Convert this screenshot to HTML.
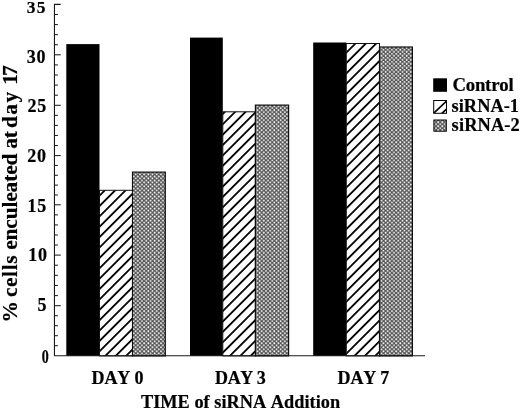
<!DOCTYPE html>
<html><head><meta charset="utf-8"><title>chart</title>
<style>
html,body{margin:0;padding:0;background:#fff;}
body{width:520px;height:410px;overflow:hidden;}
svg{display:block;filter:blur(0.35px);}
text{font-family:"Liberation Serif","Times New Roman",serif;font-weight:bold;fill:#000;stroke:#000;stroke-width:0.2px;font-kerning:none;}
</style></head><body>
<svg width="520" height="410" viewBox="0 0 520 410">
<defs>
<pattern id="hatch" width="12" height="7.34" patternUnits="userSpaceOnUse" patternTransform="translate(115.6 200.3) rotate(-45) translate(0 -0.9)">
<rect width="12" height="7.34" fill="#fff"/>
<rect y="0" width="12" height="1.8" fill="#000"/>
</pattern>
<pattern id="dots" width="4.2" height="4.02" patternUnits="userSpaceOnUse" patternTransform="translate(0.3 0.6)">
<rect width="4.2" height="4.02" fill="#545454"/>
<circle cx="1.05" cy="1.005" r="0.92" fill="#fff"/>
<circle cx="3.15" cy="3.015" r="0.92" fill="#fff"/>
</pattern>
</defs>
<rect width="520" height="410" fill="#fff"/>

<rect x="66.30" y="44.10" width="33.20" height="311.80" fill="#000"/>
<rect x="99.50" y="190.30" width="33.00" height="165.60" fill="url(#hatch)" stroke="#111" stroke-width="1.0"/>
<rect x="132.50" y="172.10" width="32.80" height="183.80" fill="url(#dots)" stroke="#111" stroke-width="1.2"/>
<rect x="190.00" y="37.60" width="32.80" height="318.30" fill="#000"/>
<rect x="222.80" y="111.80" width="32.60" height="244.10" fill="url(#hatch)" stroke="#111" stroke-width="1.0"/>
<rect x="255.40" y="105.10" width="33.20" height="250.80" fill="url(#dots)" stroke="#111" stroke-width="1.2"/>
<rect x="313.20" y="42.50" width="33.10" height="313.40" fill="#000"/>
<rect x="346.30" y="43.50" width="33.20" height="312.40" fill="url(#hatch)" stroke="#111" stroke-width="1.0"/>
<rect x="379.50" y="47.00" width="32.90" height="308.90" fill="url(#dots)" stroke="#111" stroke-width="1.2"/>
<path d="M60.650000000000006 4.40 H54.45 V355.7 H425" fill="none" stroke="#1a1a1a" stroke-width="1.1"/>
<line x1="54.45" y1="345.70" x2="57.85" y2="345.70" stroke="#1a1a1a" stroke-width="1.05"/>
<line x1="54.45" y1="335.70" x2="57.85" y2="335.70" stroke="#1a1a1a" stroke-width="1.05"/>
<line x1="54.45" y1="325.70" x2="57.85" y2="325.70" stroke="#1a1a1a" stroke-width="1.05"/>
<line x1="54.45" y1="315.70" x2="57.85" y2="315.70" stroke="#1a1a1a" stroke-width="1.05"/>
<line x1="54.45" y1="305.70" x2="60.75" y2="305.70" stroke="#1a1a1a" stroke-width="1.05"/>
<line x1="54.45" y1="295.58" x2="57.85" y2="295.58" stroke="#1a1a1a" stroke-width="1.05"/>
<line x1="54.45" y1="285.46" x2="57.85" y2="285.46" stroke="#1a1a1a" stroke-width="1.05"/>
<line x1="54.45" y1="275.34" x2="57.85" y2="275.34" stroke="#1a1a1a" stroke-width="1.05"/>
<line x1="54.45" y1="265.22" x2="57.85" y2="265.22" stroke="#1a1a1a" stroke-width="1.05"/>
<line x1="54.45" y1="255.10" x2="60.75" y2="255.10" stroke="#1a1a1a" stroke-width="1.05"/>
<line x1="54.45" y1="245.04" x2="57.85" y2="245.04" stroke="#1a1a1a" stroke-width="1.05"/>
<line x1="54.45" y1="234.98" x2="57.85" y2="234.98" stroke="#1a1a1a" stroke-width="1.05"/>
<line x1="54.45" y1="224.92" x2="57.85" y2="224.92" stroke="#1a1a1a" stroke-width="1.05"/>
<line x1="54.45" y1="214.86" x2="57.85" y2="214.86" stroke="#1a1a1a" stroke-width="1.05"/>
<line x1="54.45" y1="204.80" x2="60.75" y2="204.80" stroke="#1a1a1a" stroke-width="1.05"/>
<line x1="54.45" y1="194.96" x2="57.85" y2="194.96" stroke="#1a1a1a" stroke-width="1.05"/>
<line x1="54.45" y1="185.12" x2="57.85" y2="185.12" stroke="#1a1a1a" stroke-width="1.05"/>
<line x1="54.45" y1="175.28" x2="57.85" y2="175.28" stroke="#1a1a1a" stroke-width="1.05"/>
<line x1="54.45" y1="165.44" x2="57.85" y2="165.44" stroke="#1a1a1a" stroke-width="1.05"/>
<line x1="54.45" y1="155.60" x2="60.75" y2="155.60" stroke="#1a1a1a" stroke-width="1.05"/>
<line x1="54.45" y1="145.54" x2="57.85" y2="145.54" stroke="#1a1a1a" stroke-width="1.05"/>
<line x1="54.45" y1="135.48" x2="57.85" y2="135.48" stroke="#1a1a1a" stroke-width="1.05"/>
<line x1="54.45" y1="125.42" x2="57.85" y2="125.42" stroke="#1a1a1a" stroke-width="1.05"/>
<line x1="54.45" y1="115.36" x2="57.85" y2="115.36" stroke="#1a1a1a" stroke-width="1.05"/>
<line x1="54.45" y1="105.30" x2="60.75" y2="105.30" stroke="#1a1a1a" stroke-width="1.05"/>
<line x1="54.45" y1="95.20" x2="57.85" y2="95.20" stroke="#1a1a1a" stroke-width="1.05"/>
<line x1="54.45" y1="85.10" x2="57.85" y2="85.10" stroke="#1a1a1a" stroke-width="1.05"/>
<line x1="54.45" y1="75.00" x2="57.85" y2="75.00" stroke="#1a1a1a" stroke-width="1.05"/>
<line x1="54.45" y1="64.90" x2="57.85" y2="64.90" stroke="#1a1a1a" stroke-width="1.05"/>
<line x1="54.45" y1="54.80" x2="60.75" y2="54.80" stroke="#1a1a1a" stroke-width="1.05"/>
<line x1="54.45" y1="44.72" x2="57.85" y2="44.72" stroke="#1a1a1a" stroke-width="1.05"/>
<line x1="54.45" y1="34.64" x2="57.85" y2="34.64" stroke="#1a1a1a" stroke-width="1.05"/>
<line x1="54.45" y1="24.56" x2="57.85" y2="24.56" stroke="#1a1a1a" stroke-width="1.05"/>
<line x1="54.45" y1="14.48" x2="57.85" y2="14.48" stroke="#1a1a1a" stroke-width="1.05"/>
<text x="45.5" y="12.8" font-size="17.4" text-anchor="end" textLength="18.7" lengthAdjust="spacing">35</text>
<text x="45.5" y="62.9" font-size="18" text-anchor="end" textLength="18.7" lengthAdjust="spacing">30</text>
<text x="46.2" y="111.8" font-size="18" text-anchor="end" textLength="18.7" lengthAdjust="spacing">25</text>
<text x="45.9" y="162.4" font-size="18" text-anchor="end" textLength="18.7" lengthAdjust="spacing">20</text>
<text x="46.2" y="211.8" font-size="18" text-anchor="end" textLength="18.7" lengthAdjust="spacing">15</text>
<text x="46.9" y="261.4" font-size="18" text-anchor="end" textLength="18.7" lengthAdjust="spacing">10</text>
<text x="46.5" y="310.7" font-size="18" text-anchor="end" textLength="9.5" lengthAdjust="spacing">5</text>
<text x="0" y="0" font-size="18" text-anchor="end" transform="translate(48.7 362.8) scale(0.78 1.08)">0</text>
<text x="91.6" y="383.6" font-size="18" textLength="51.8" lengthAdjust="spacing">DAY 0</text>
<text x="215.1" y="383.6" font-size="18" textLength="50.6" lengthAdjust="spacing">DAY 3</text>
<text x="337.6" y="383.6" font-size="18" textLength="51.6" lengthAdjust="spacing">DAY 7</text>
<text x="140.9" y="408.1" font-size="18.3" textLength="199.2" lengthAdjust="spacing">TIME of siRNA Addition</text>
<text transform="translate(17.2 322.4) rotate(-90)" font-size="21.4" textLength="20.5" lengthAdjust="spacing">%</text>
<text transform="translate(17.2 297.0) rotate(-90)" font-size="21.4" textLength="41.5" lengthAdjust="spacing">cells</text>
<text transform="translate(17.2 249.8) rotate(-90)" font-size="21.4" textLength="96.2" lengthAdjust="spacing">enculeated</text>
<text transform="translate(17.2 148.7) rotate(-90)" font-size="21.4" textLength="17.6" lengthAdjust="spacing">at</text>
<text transform="translate(17.2 127.9) rotate(-90)" font-size="21.4" textLength="36.0" lengthAdjust="spacing">day</text>
<text transform="translate(17.2 84.7) rotate(-90)" font-size="21.4" textLength="19.3" lengthAdjust="spacing">17</text>
<rect x="433.2" y="78.3" width="13.8" height="13.5" fill="#000"/>
<clipPath id="lc"><rect x="433.7" y="100.5" width="12.8" height="12.8"/></clipPath>
<rect x="433.7" y="100.5" width="12.8" height="12.8" fill="#fff" stroke="#000" stroke-width="1"/>
<path d="M432.6 114.2 L447.6 100.1 M441.1 114.2 L447.6 108.1" clip-path="url(#lc)" stroke="#000" stroke-width="1.7" fill="none"/>
<rect x="433.9" y="120" width="12.4" height="11.2" fill="url(#dots)" stroke="#000" stroke-width="1"/>
<text x="452.4" y="90.9" font-size="18.8" textLength="61.2" lengthAdjust="spacing">Control</text>
<text x="451.6" y="111.5" font-size="18.4" textLength="67.4" lengthAdjust="spacing">siRNA-1</text>
<text x="451.6" y="131.3" font-size="18.4" textLength="68.2" lengthAdjust="spacing">siRNA-2</text>
</svg></body></html>
